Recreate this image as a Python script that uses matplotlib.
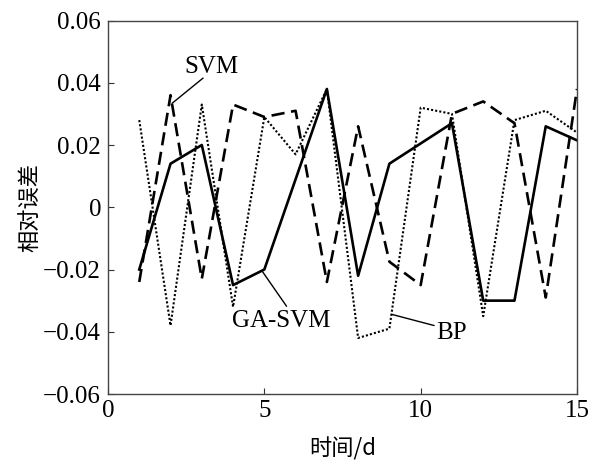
import numpy as np
import matplotlib.pyplot as plt

days = np.arange(1, 16)
ga_svm = [-0.020, 0.014, 0.020, -0.025, -0.020, 0.009, 0.038, -0.022,
          0.014, 0.0205, 0.027, -0.030, -0.030, 0.026, 0.0215]
svm = [-0.024, 0.036, -0.023, 0.033, 0.029, 0.031, -0.024, 0.026,
       -0.0175, -0.025, 0.030, 0.034, 0.027, -0.029, 0.038]
bp = [0.028, -0.038, 0.033, -0.032, 0.029, 0.017, 0.038, -0.042,
      -0.039, 0.032, 0.030, -0.035, 0.028, 0.031, 0.024]

# label positions and leader lines (data coords)
labels = ['SVM', 'GA-SVM', 'BP']
label_xy = [(3.32, 0.0452), (5.55, -0.0365), (11.0, -0.0403)]
leader_from = [(3.04, 0.0415), (4.95, -0.0208), (9.07, -0.0344)]
leader_to = [(2.05, 0.0334), (5.71, -0.0318), (10.43, -0.0380)]

serif = ['Liberation Serif', 'DejaVu Serif']
cjk = ['Noto Sans CJK SC', 'DejaVu Sans']

fig = plt.figure(figsize=(5.98, 4.63), dpi=100)
ax = fig.add_axes([0.1806, 0.149, 0.7843, 0.8067])

ax.plot(days, ga_svm, color='black', linewidth=1.9, linestyle='-')
ax.plot(days, svm, color='black', linewidth=1.9, linestyle=(0, (5, 2.5)))
ax.plot(days, bp, color='black', linewidth=1.5, linestyle=(0, (1, 1)))

ax.set_xlim(0, 15)
ax.set_ylim(-0.06, 0.06)
ax.set_xticks([0, 5, 10, 15])
ax.set_yticks([-0.06, -0.04, -0.02, 0, 0.02, 0.04, 0.06])
ax.set_yticklabels(['\u22120.06', '\u22120.04', '\u22120.02', '0', '0.02', '0.04', '0.06'])
ax.tick_params(direction='in', length=4, width=0.8, color='#333333',
               labelsize=18, top=False, right=False)
ax.tick_params(axis='x', pad=4)
ax.tick_params(axis='y', pad=5)
for lab in ax.get_xticklabels() + ax.get_yticklabels():
    lab.set_family(serif)
for s in ax.spines.values():
    s.set_color('#444444')
    s.set_linewidth(1.0)

ax.set_xlabel('时间/d', family=cjk, fontsize=16, fontweight='medium', labelpad=11)
ax.set_ylabel('相对误差', family=cjk, fontsize=16, fontweight='medium', labelpad=1)

for name, (tx, ty), p0, p1 in zip(labels, label_xy, leader_from, leader_to):
    ax.text(tx, ty, name, family=serif, fontsize=18, ha='center', va='center')
    ax.annotate('', xy=p1, xytext=p0,
                arrowprops=dict(arrowstyle='-', color='black', lw=1.0, shrinkA=0, shrinkB=0))

fig.savefig('out.png', dpi=100)
